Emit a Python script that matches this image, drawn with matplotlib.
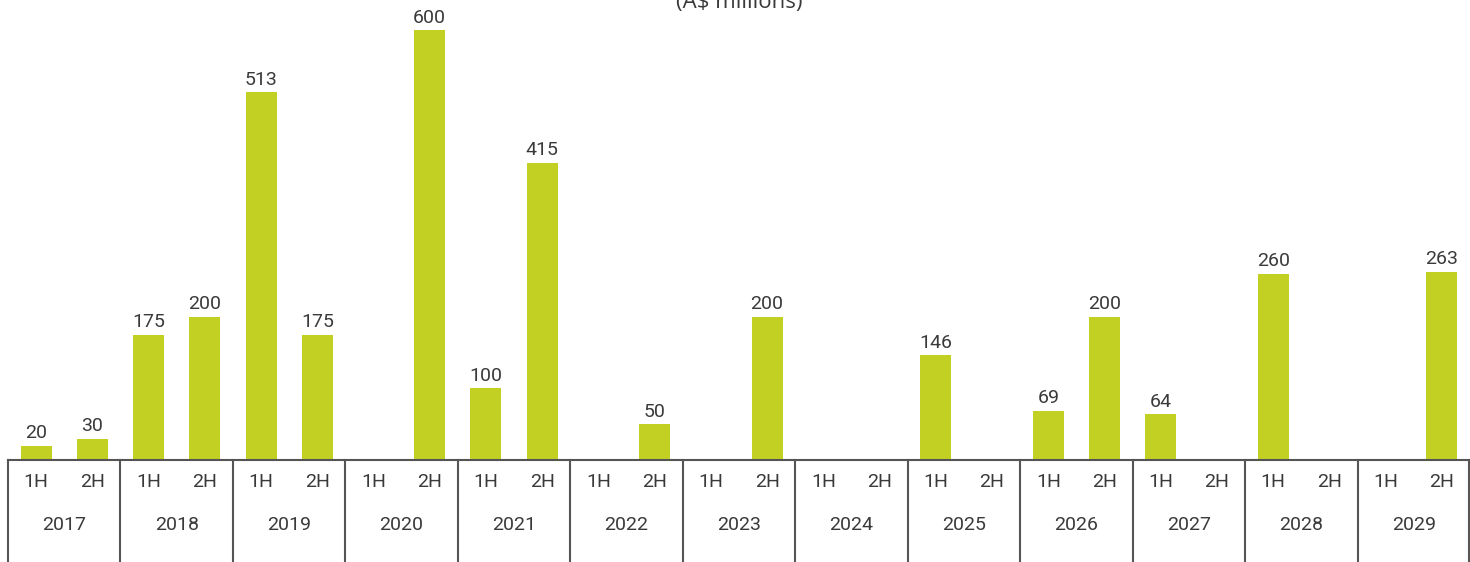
import numpy as np
import matplotlib
matplotlib.use('Agg')
from matplotlib import pyplot as plt
import matplotlib.transforms as mtransforms

years = ['2017', '2018', '2019', '2020', '2021', '2022', '2023',
         '2024', '2025', '2026', '2027', '2028', '2029']
halves = ['1H', '2H']
first_half = [20, 175, 513, None, 100, None, None, None, 146, 69, 64, 260, None]
second_half = [30, 200, 175, 600, 415, 50, 200, None, None, 200, None, None, 263]

bar_color = '#C2D023'
text_color = '#3a3a3a'
line_color = '#555555'
label_font = ['Roboto', 'DejaVu Sans']

fig = plt.figure(figsize=(14.7, 5.62), dpi=100)
ax = fig.add_axes([8 / 1470, 102 / 562, 1462 / 1470, 460 / 562])

# one slot per half-year
values = []
for a, b in zip(first_half, second_half):
    values.extend([a, b])
x = np.arange(len(values))

for xi, v in zip(x, values):
    if v is None:
        continue
    ax.bar(xi, v, width=0.55, color=bar_color, zorder=2)
    ax.annotate(str(v), (xi, v), xytext=(0, 2.5), textcoords='offset points',
                ha='center', va='bottom', fontsize=14, color=text_color,
                family=label_font)

ax.set_xlim(-0.5, len(values) - 0.5)
ax.set_ylim(0, 600 * 460 / 430)
ax.axis('off')

trans = mtransforms.blended_transform_factory(ax.transData, ax.transAxes)

# category table below the bars
ax.plot([-0.5, len(values) - 0.5], [0, 0], transform=trans, color=line_color,
        lw=1.5, clip_on=False)
for i in range(len(years) + 1):
    xb = i * 2 - 0.5
    if i == len(years):
        xb -= 0.02
    ax.plot([xb, xb], [0, -0.25], transform=trans, color=line_color,
            lw=1.5, clip_on=False)

for i, yr in enumerate(years):
    for j, h in enumerate(halves):
        ax.text(i * 2 + j, -22 / 460, h, transform=trans, ha='center', va='center',
                fontsize=14, color=text_color, family=label_font)
    ax.text(i * 2 + 0.5, -65 / 460, yr, transform=trans, ha='center', va='center',
            fontsize=14, color=text_color, family=label_font)

# title sits partly above the top edge, as in the source
fig.text(0.503, 1 - 8 / 562, '(A$ millions)', ha='center', va='baseline',
         fontsize=16, color=text_color, family=['Open Sans', 'DejaVu Sans'])

fig.savefig('out.png', dpi=100)
